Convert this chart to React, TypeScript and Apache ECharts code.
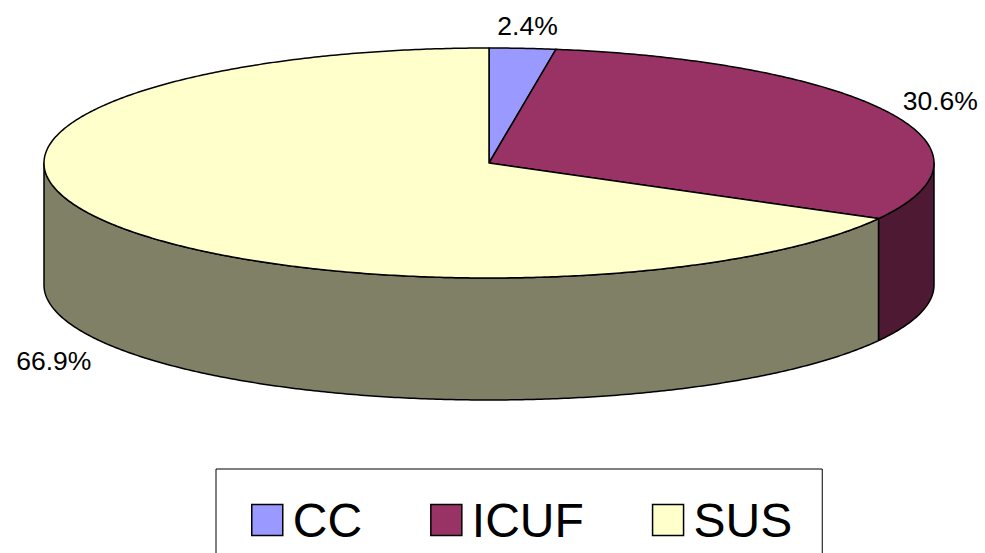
import React, { useEffect, useRef } from "react";
import * as echarts from "echarts";

const categories = ["CC", "ICUF", "SUS"];
const values = [2.4, 30.6, 66.9];
const labels = ["2.4%", "30.6%", "66.9%"];
const topColors = ["#9999FF", "#993366", "#FFFFCC"];
const sideColors = ["#4C4C7F", "#4D1933", "#808066"];

const CX = 489;
const CY = 163;
const RX = 445;
const RY = 115;
const DEPTH = 122;
const FONT = '"Liberation Sans", Arial, sans-serif';
const LABEL_OFFSETS = [
  [5, -22],
  [52, -11],
  [-52, 18 + DEPTH],
];

const total = values.reduce((a, b) => a + b, 0);

function pt(deg: number, dy = 0): number[] {
  const t = (deg * Math.PI) / 180;
  return [CX + RX * Math.sin(t), CY - RY * Math.cos(t) + dy];
}

function arc(from: number, to: number, dy = 0): number[][] {
  const n = Math.max(2, Math.ceil(Math.abs(to - from) * 2));
  const out: number[][] = [];
  for (let i = 0; i <= n; i++) out.push(pt(from + ((to - from) * i) / n, dy));
  return out;
}

function renderSlice(index: number) {
  return (_params: any, api: any) => {
    const value = api.value(0) as number;
    const before = values.slice(0, index).reduce((a, b) => a + b, 0);
    const a0 = (before / total) * 360;
    const a1 = a0 + (value / total) * 360;
    const children: any[] = [];
    const sFrom = Math.max(a0, 90);
    const sTo = Math.min(a1, 270);
    const stroke = { stroke: "#000", lineWidth: 1.5, lineJoin: "round" };
    if (sTo > sFrom) {
      children.push({
        type: "polygon",
        shape: { points: [...arc(sFrom, sTo), ...arc(sTo, sFrom, DEPTH)] },
        style: { fill: sideColors[index], ...stroke },
      });
    }
    children.push({
      type: "polygon",
      shape: { points: [[CX, CY], ...arc(a0, a1)] },
      style: { fill: topColors[index], ...stroke },
    });
    const mid = (a0 + a1) / 2;
    const p = pt(mid);
    children.push({
      type: "text",
      x: p[0] + LABEL_OFFSETS[index][0],
      y: p[1] + LABEL_OFFSETS[index][1],
      style: {
        text: labels[index],
        fill: "#000",
        font: `26.5px ${FONT}`,
        align: "center",
        verticalAlign: "middle",
      },
    });
    return { type: "group", children };
  };
}

export default function App() {
  const ref = useRef<HTMLDivElement>(null);
  useEffect(() => {
    const chart = echarts.init(ref.current!, null, { renderer: "svg" });
    chart.setOption({
      animation: false,
      backgroundColor: "#fff",
      legend: {
        left: 216,
        top: 469,
        orient: "horizontal",
        data: categories,
        icon: "rect",
        itemWidth: 31,
        itemHeight: 31,
        itemGap: 68,
        padding: [27, 30, 24, 35],
        borderColor: "#000",
        borderWidth: 1,
        selectedMode: false,
        itemStyle: { borderColor: "#000", borderWidth: 1.5 },
        textStyle: {
          color: "#000",
          fontFamily: "Liberation Sans",
          fontSize: 48,
          padding: [0, 0, 0, 5],
        },
      },
      series: categories.map((name, i) => ({
        type: "custom",
        name,
        coordinateSystem: "none",
        silent: true,
        itemStyle: { color: topColors[i] },
        data: [[values[i]]],
        renderItem: renderSlice(i),
      })),
    });
    return () => chart.dispose();
  }, []);
  return (
    <div
      ref={ref}
      style={{ position: "absolute", left: 0, top: 0, width: 985, height: 553 }}
    />
  );
}
